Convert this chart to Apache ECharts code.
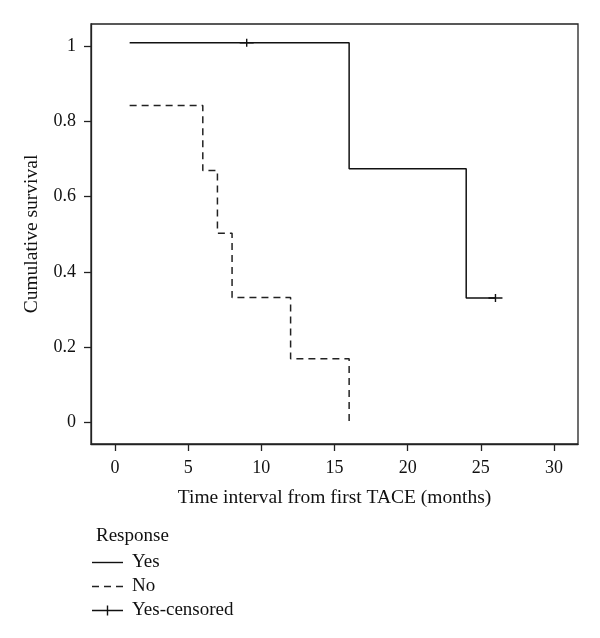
<!DOCTYPE html>
<html>
<head>
<meta charset="utf-8">
<script src="https://cdn.jsdelivr.net/npm/echarts@6/dist/echarts.min.js"></script>
<style>html,body{margin:0;padding:0;background:#fff}#c{width:600px;height:638px}</style>
</head>
<body>
<div id="c"></div>
<script>
// Data
const yesTime = [1, 16, 24, 26];
const yesSurv = [1.008, 0.674, 0.331, 0.331];
const noTime = [1, 6, 7, 8, 12, 16];
const noSurv = [0.842, 0.669, 0.503, 0.332, 0.170, 0];
const censTime = [9, 26];
const censSurv = [1.008, 0.331];
const xTicks = [0, 5, 10, 15, 20, 25, 30];
const yTicks = [0, 0.2, 0.4, 0.6, 0.8, 1];
const seriesNames = ['Yes', 'No', 'Yes-censored'];

const FONT = '"Liberation Serif", "DejaVu Serif", serif';
const INK = '#111';

const chart = echarts.init(document.getElementById('c'), null, {renderer: 'canvas'});
const zip = (a, b) => a.map((v, i) => [v, b[i]]);

chart.setOption({
  animation: false,
  backgroundColor: '#fff',
  title: {
    text: 'Response', left: 96, top: 527, padding: 0,
    textStyle: {fontFamily: FONT, fontSize: 19, fontWeight: 'normal', color: INK}
  },
  legend: {
    orient: 'vertical', left: 92, top: 553, padding: 0,
    itemWidth: 31, itemHeight: 10, itemGap: 5,
    textStyle: {fontFamily: FONT, fontSize: 19, color: INK, padding: [0, 0, 0, 4]},
    data: [
      {name: seriesNames[0], icon: 'path://M0,4.3H31V5.7H0Z'},
      {name: seriesNames[1], icon: 'path://M0,4.3H7V5.7H0Z M12,4.3H19V5.7H12Z M24,4.3H31V5.7H24Z'},
      {name: seriesNames[2], icon: 'path://M0,4.3H31V5.7H0Z M14.8,0H16.2V10H14.8Z'}
    ]
  },
  grid: {
    left: 91, top: 24, right: 22, bottom: 194,
    show: true, borderColor: '#222', borderWidth: 1.3, backgroundColor: 'transparent',
    containLabel: false
  },
  xAxis: {
    type: 'value', min: -1.64, max: 31.64,
    name: 'Time interval from first TACE (months)',
    nameLocation: 'middle', nameGap: 44,
    nameTextStyle: {fontFamily: FONT, fontSize: 19.5, color: INK},
    splitLine: {show: false},
    axisLine: {show: true, onZero: false, lineStyle: {color: '#222', width: 1.3}},
    axisTick: {show: true, length: 7, inside: false, customValues: xTicks, lineStyle: {color: '#222', width: 1.3}},
    axisLabel: {customValues: xTicks, margin: 15, fontFamily: FONT, fontSize: 18, color: INK}
  },
  yAxis: {
    type: 'value', min: -0.0565, max: 1.058,
    name: 'Cumulative survival',
    nameLocation: 'middle', nameGap: 49,
    nameTextStyle: {fontFamily: FONT, fontSize: 19.5, color: INK},
    splitLine: {show: false},
    axisLine: {show: true, onZero: false, lineStyle: {color: '#222', width: 1.3}},
    axisTick: {show: true, length: 7, inside: false, customValues: yTicks, lineStyle: {color: '#222', width: 1.3}},
    axisLabel: {customValues: yTicks, margin: 15, fontFamily: FONT, fontSize: 18, color: INK,
      formatter: v => String(Math.round(v * 10) / 10)}
  },
  series: [
    {
      name: seriesNames[0], type: 'line', step: 'end', symbol: 'none',
      data: zip(yesTime, yesSurv),
      lineStyle: {color: INK, width: 1.5, type: 'solid'},
      itemStyle: {color: INK}
    },
    {
      name: seriesNames[1], type: 'line', step: 'end', symbol: 'none',
      data: zip(noTime, noSurv),
      lineStyle: {color: '#222', width: 1.5, type: [7, 5]},
      itemStyle: {color: '#222'}
    },
    {
      name: seriesNames[2], type: 'scatter',
      symbol: 'path://M0,3.3H14V4.7H0Z M6.3,0H7.7V8H6.3Z',
      symbolSize: [14, 8],
      data: zip(censTime, censSurv),
      itemStyle: {color: INK, opacity: 1}
    }
  ]
});
</script>
</body>
</html>
